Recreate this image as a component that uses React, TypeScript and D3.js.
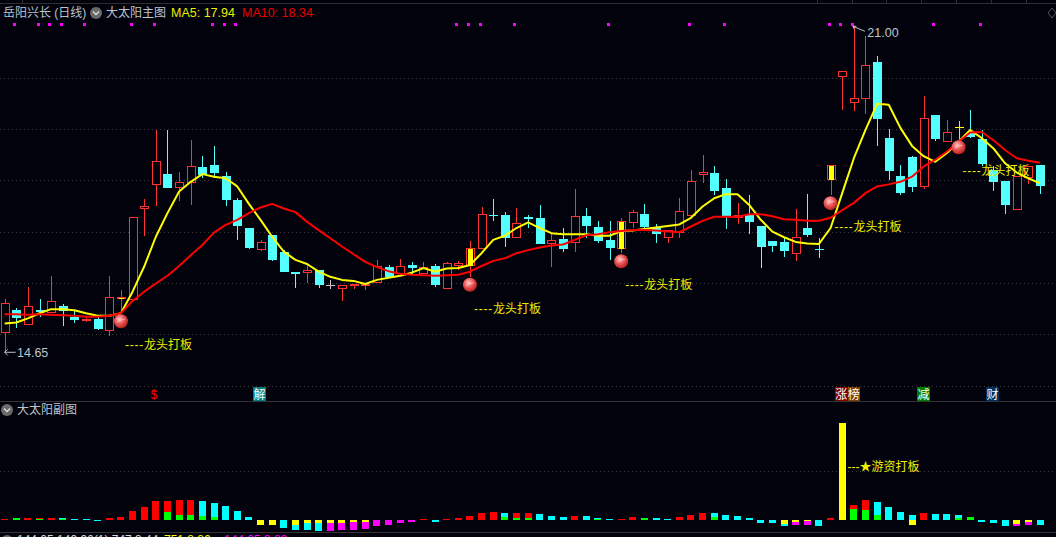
import React from "react";
import * as d3 from "d3";

const opens = [15.03,15.47,15.19,15.47,15.42,15.55,15.34,15.25,15.30,15.07,15.69,15.67,17.45,17.91,18.12,17.84,17.95,18.26,18.30,18.08,17.62,17.07,16.65,16.93,16.60,16.21,16.20,16.25,15.96,15.89,15.95,15.95,15.99,16.31,16.17,16.35,16.17,16.33,15.89,16.34,16.34,16.66,17.32,17.32,16.88,17.28,17.27,16.76,16.86,16.77,17.30,17.09,16.84,16.67,17.16,17.34,17.08,16.88,16.97,17.31,18.11,18.14,17.85,17.26,17.32,17.11,16.82,16.80,16.57,17.07,16.67,18.01,20.01,19.51,19.59,20.31,18.82,18.08,18.45,17.86,19.27,18.75,19.04,18.92,18.80,18.20,17.99,17.42,18.05,18.30];
const closes = [15.60,15.32,15.55,15.43,15.64,15.46,15.28,15.29,15.11,15.72,15.72,17.28,17.50,18.37,17.84,17.97,18.28,18.10,18.14,17.62,17.10,16.69,16.79,16.45,16.22,16.18,16.25,15.97,15.96,15.97,15.98,15.98,16.34,16.11,16.34,16.29,16.32,15.96,16.38,16.38,16.68,17.34,17.30,16.88,17.16,17.25,16.76,16.83,16.67,17.30,17.10,16.82,16.68,17.20,17.38,17.09,16.95,17.03,17.40,17.98,18.16,17.80,17.30,17.32,17.19,16.71,16.72,16.63,16.89,16.93,16.66,18.30,20.12,19.60,20.24,19.20,18.18,17.75,17.87,19.21,18.80,18.94,19.04,18.84,18.32,17.97,17.51,18.09,18.28,17.88];
const highs = [15.69,15.52,15.92,15.69,16.14,15.59,15.46,15.33,15.34,16.14,15.86,17.28,17.64,18.98,18.98,18.16,18.79,18.47,18.67,18.16,17.66,17.07,16.83,16.93,16.64,16.21,16.39,16.25,16.06,15.97,15.98,15.98,16.45,16.35,16.47,16.41,16.40,16.37,16.40,16.42,16.82,17.48,17.64,17.38,17.46,17.32,17.52,16.97,17.07,17.83,17.46,17.21,17.21,17.27,17.42,17.54,17.14,17.03,17.66,18.20,18.49,18.28,18.02,17.56,17.71,17.11,16.82,16.90,17.44,17.73,16.88,18.30,20.12,21.00,20.81,20.42,18.99,18.30,18.47,19.64,19.27,19.18,19.16,19.37,18.98,18.27,17.99,18.09,18.28,18.30];
const lows = [14.65,15.13,15.19,15.34,15.42,15.17,15.22,15.23,15.09,14.97,15.41,15.67,16.92,17.49,17.84,17.60,17.51,18.04,18.04,17.50,16.84,16.66,16.62,16.43,16.22,15.91,15.99,15.91,15.88,15.65,15.88,15.86,15.99,16.10,16.17,16.18,16.17,15.93,15.89,16.25,16.12,16.66,17.21,16.70,16.88,17.08,16.76,16.32,16.61,16.61,16.88,16.77,16.45,16.58,17.08,17.03,16.78,16.78,16.88,17.31,17.95,17.71,17.05,17.15,16.96,16.30,16.60,16.51,16.43,16.90,16.49,17.71,19.36,19.34,19.29,18.67,18.01,17.72,17.77,17.83,18.77,18.75,18.80,18.82,18.28,17.80,17.35,17.42,17.92,17.74];
const ma5 = [15.21,15.23,15.31,15.41,15.49,15.49,15.47,15.41,15.36,15.36,15.41,15.83,16.32,16.90,17.36,17.78,17.97,18.12,18.07,18.04,17.88,17.54,17.23,16.90,16.61,16.45,16.37,16.22,16.12,16.06,16.04,15.98,16.06,16.10,16.14,16.20,16.29,16.22,16.28,16.29,16.35,16.58,16.84,16.92,17.07,17.18,17.07,16.97,16.95,16.95,16.95,16.92,16.92,17.01,17.02,17.05,17.08,17.11,17.14,17.27,17.49,17.65,17.73,17.73,17.52,17.23,17.00,16.89,16.80,16.77,16.76,17.07,17.75,18.43,18.98,19.49,19.47,19.02,18.67,18.47,18.36,18.53,18.75,18.98,18.82,18.62,18.33,18.15,18.04,17.94];
const ma10 = [15.39,15.39,15.38,15.39,15.38,15.37,15.36,15.34,15.34,15.36,15.41,15.65,15.83,15.99,16.14,16.33,16.54,16.74,16.98,17.13,17.23,17.36,17.47,17.54,17.45,17.38,17.19,17.03,16.87,16.71,16.56,16.41,16.31,16.23,16.18,16.16,16.15,16.14,16.15,16.16,16.22,16.33,16.43,16.48,16.58,16.64,16.69,16.73,16.75,16.84,16.93,16.95,16.99,17.01,17.03,17.03,17.02,17.00,16.99,17.10,17.21,17.29,17.29,17.29,17.34,17.34,17.30,17.24,17.23,17.21,17.21,17.27,17.42,17.56,17.75,17.88,17.92,17.97,18.07,18.27,18.40,18.56,18.75,18.93,18.94,18.78,18.59,18.43,18.38,18.34];

const greyCandles = [28];
const yellowCross = [82];
const yellowBody = [10, 40, 53, 71];
const ballIdx = [10, 40, 53, 71, 82];
const dotIdx = [1,3,4,5,7,11,13,18,19,20,39,40,41,44,52,59,62,71,72,73,80,84];

const subA = [0.7,1.7,1.7,1.7,1.7,1.7,0.7,0.7,-1.3,1.7,2.7,8.7,12.7,18.7,18.7,19.7,19.7,18.7,16.7,13.7,8.7,2.7,-5,-5.7,-8.7,-10.7,-10.7,-11.7,-11.7,-10.7,-10,-9,-6,-5,-3,-2,0.7,-2,0.6,1.7,3.7,6.7,7.7,6.7,6.7,6.7,5.7,3.7,2.7,3.7,3.7,1.7,0.7,0.6,2.7,1.7,1.7,0.7,2.7,4.7,6.7,6.7,4.7,3.7,1.7,-3,-3.7,-6,-5,-5,-6,1.7,96.7,14.7,19.7,17.7,12.7,7.7,4.7,6.7,5.7,5.7,4.7,2.7,-2,-3.7,-6.7,-6,-5,-5];
const subAColor = [
  "r","g","r","r","r","c","c","c","c","r",
  "r","r","r","r","r","r","r","c","c","c",
  "c","c","y","c","c","c","c","c","m","m",
  "m","m","m","m","m","m","r","c","r","r",
  "r","r","r","c","r","r","c","c","c","r",
  "c","c","c","r","r","g","c","c","r","r",
  "r","c","c","c","c","c","c","c","m","m",
  "c","r","y","r","r","c","c","c","c","r",
  "c","c","c","g","c","c","c","m","m","c",
];
const subB = [0,0,0,0.7,0,0.7,0,0,0,0,0,0,0,0,7.7,4.7,4.7,3.7,2.7,0,0,0,0,-5,0,-5,-3,-3,-3,-3,-2,-2,0,0,0,0,0,0,0,0,0,0,0,2.7,1.7,1.7,0,0,0,0,0,0.7,0,0,0,0,0,0,0,0,0,2.7,0,0,0,0,0,-4,-2,-1,0,0,0,10.7,9.7,4.7,0,0,-5,0,0,0,1.7,0,0,0,0,-4,-2,0];
const subBColor = (i: number) => (subB[i] > 0 ? "#00ff00" : "#ffff00");
const colorOf: Record<string, string> = { r: "#ff0000", g: "#00ff00", c: "#00ffff", y: "#ffff00", m: "#ff00ff" };

const priceTicks = [14, 15, 16, 17, 18, 19, 20];
const subTicks = [50];
const topTicks = [22, 817, 852, 886, 921, 956, 991, 1026];

const tags = [
  { x: 253, w: 13, bg: "#007f7f", t: "解" },
  { x: 835, w: 12.5, bg: "#800000", t: "涨" },
  { x: 847.5, w: 12.5, bg: "#804000", t: "榜" },
  { x: 917, w: 13, bg: "#008000", t: "减" },
  { x: 986, w: 13, bg: "#003060", t: "财" },
];
const bottomTexts = [
  { x: 17, c: "#d8d8d8", t: "144.05 149.96(1) 747 3.44" },
  { x: 164, c: "#ffff00", t: "751 8.86" },
  { x: 224, c: "#ff00ff", t: "144.05 3.89" },
];

const BG = "#02020c";
const RED = "#ff3232";
const CYAN = "#54ffff";
const GREY = "#bcc4cc";
const CJK = "'Liberation Sans','Noto Sans CJK SC',sans-serif";

export default function App() {
  const x = d3.scaleLinear().domain([0, 89]).range([4.6, 1040]);
  const y = d3.scaleLinear().domain([15, 20]).range([334.3, 77.6]);
  const ys = d3.scaleLinear().domain([0, 100]).range([519.5, 419.5]);
  const cx = (i: number) => Math.round(x(i)) + 0.5;
  const line = d3.line<number>().x((_, i) => x(i)).y((d) => y(d));
  const idx = d3.range(opens.length);

  const Chevron = ({ cxx, cy }: { cxx: number; cy: number }) => (
    <g>
      <circle cx={cxx} cy={cy} r={6} fill="#6a6a6a" />
      <path d={`M${cxx - 3} ${cy - 1.5}L${cxx} ${cy + 1.5}L${cxx + 3} ${cy - 1.5}`} fill="none" stroke="#ddd" strokeWidth={1.3} />
    </g>
  );

  const hi = 73;
  const lo = 0;

  return (
    <div style={{ position: "fixed", left: 0, top: 0, width: 1056, height: 537, background: BG }}>
      <svg width={1056} height={537} style={{ display: "block" }} fontFamily={CJK}>
        <defs>
          <radialGradient id="ball" cx="40%" cy="35%" r="70%">
            <stop offset="0%" stopColor="#ffc8c8" />
            <stop offset="45%" stopColor="#ee5a5a" />
            <stop offset="100%" stopColor="#b01818" />
          </radialGradient>
        </defs>
        <rect width={1056} height={537} fill={BG} />

        {/* frame */}
        <line x1={0} x2={1056} y1={3.5} y2={3.5} stroke="#2e2e2e" />
        {topTicks.map((t) => (
          <line key={t} x1={t + 0.5} x2={t + 0.5} y1={0} y2={3} stroke="#2e2e2e" />
        ))}
        <line x1={0} x2={1056} y1={401.5} y2={401.5} stroke="#333" />
        <line x1={0} x2={1056} y1={532.5} y2={532.5} stroke="#333" />
        <path d="M1052 8L1056 13L1052 18L1048 13Z" fill="none" stroke="#555" />

        {/* grid */}
        {priceTicks.map((p) => (
          <line key={p} x1={0} x2={1056} y1={Math.round(y(p)) + 0.5} y2={Math.round(y(p)) + 0.5} stroke="#3c3c3c" strokeDasharray="1 3" />
        ))}
        {subTicks.map((p) => (
          <line key={p} x1={0} x2={1056} y1={471.5} y2={471.5} stroke="#3c3c3c" strokeDasharray="1 3" />
        ))}

        {/* candles */}
        {idx.map((i) => {
          const up = closes[i] >= opens[i];
          const grey = greyCandles.includes(i);
          const yc = yellowCross.includes(i);
          const yb = yellowBody.includes(i);
          const col = grey ? "#c8c8c8" : up && !yc ? RED : CYAN;
          const top = Math.round(y(Math.max(opens[i], closes[i])));
          const bot = Math.round(y(Math.min(opens[i], closes[i])));
          const c = cx(i);
          const wick = (
            <line x1={c} x2={c} y1={Math.round(y(highs[i]))} y2={Math.round(y(lows[i]))} stroke={col} shapeRendering="crispEdges" />
          );
          if (grey || yc) {
            return (
              <g key={i}>
                {wick}
                <rect x={c - 4.5} y={top} width={9} height={1} fill={yc ? "#ffff00" : col} shapeRendering="crispEdges" />
              </g>
            );
          }
          if (!up) {
            return (
              <g key={i} shapeRendering="crispEdges">
                {wick}
                <rect x={c - 4.5} y={top} width={9} height={Math.max(1, bot - top)} fill={col} />
              </g>
            );
          }
          return (
            <g key={i} shapeRendering="crispEdges">
              {wick}
              <rect x={c - 4} y={top + 0.5} width={8} height={Math.max(1, bot - top - 1)} fill={BG} stroke={col} />
              {yb && <rect x={c - 2.5} y={top + 1} width={5} height={Math.max(1, bot - top - 1)} fill="#ffff00" />}
            </g>
          );
        })}

        {/* moving averages */}
        <path d={line(ma5) ?? ""} fill="none" stroke="#ffff00" strokeWidth={2} strokeLinejoin="round" />
        <path d={line(ma10) ?? ""} fill="none" stroke="#ff0000" strokeWidth={2} strokeLinejoin="round" />

        {/* signals */}
        {ballIdx.map((i) => {
          const c = x(i);
          const by = y(lows[i]) + 8;
          return (
            <g key={i}>
              <circle cx={c} cy={by} r={7} fill="url(#ball)" />
              <path d={`M${c - 4} ${by + 1}Q${c} ${by - 2} ${c + 4} ${by - 2}`} fill="none" stroke="#ffe0e0" strokeOpacity={0.55} strokeWidth={1} />
              <text x={c + 4} y={y(lows[i]) + 36} fontSize={12} fill="#ecec00">
                <tspan letterSpacing={0.75}>----</tspan>龙头打板
              </text>
            </g>
          );
        })}

        {dotIdx.map((i) => (
          <rect key={i} x={Math.round(x(i)) - 3} y={23} width={3} height={3} fill="#ff00ff" shapeRendering="crispEdges" />
        ))}

        {/* extremes */}
        <path d={`M${x(hi) - 1} ${y(highs[hi])}L${x(hi) + 11} ${y(highs[hi]) + 5}M${x(hi) - 1} ${y(highs[hi])}l3.5 0M${x(hi) - 1} ${y(highs[hi])}l1.5 3`} fill="none" stroke="#c4c4c4" />
        <text x={x(hi) + 13.5} y={y(highs[hi]) + 10.5} fontSize={12.5} fill={GREY}>
          {highs[hi].toFixed(2)}
        </text>
        <path d={`M${x(lo)} ${y(lows[lo])}h11M${x(lo)} ${y(lows[lo])}l3 -3M${x(lo)} ${y(lows[lo])}l3 3`} fill="none" stroke="#c4c4c4" />
        <text x={17} y={y(lows[lo]) + 4.5} fontSize={12.5} fill={GREY}>
          {lows[lo].toFixed(2)}
        </text>

        {/* header */}
        <text x={3} y={17} fontSize={12} fill={GREY}>岳阳兴长 (日线)</text>
        <Chevron cxx={96} cy={13} />
        <text x={106} y={17} fontSize={12} fill={GREY}>大太阳主图</text>
        <text x={171} y={17} fontSize={12.5} fill="#e6f000">MA5: {ma5[89].toFixed(2)}</text>
        <text x={242} y={17} fontSize={12.5} fill="#e80000">MA10: {ma10[89].toFixed(2)}</text>

        {/* event tags */}
        <text x={154} y={399} fontSize={12} fill="#ff0000" textAnchor="middle">$</text>
        <path d="M154 389l-2.5 2.5h5z" fill="#ff0000" />
        {tags.map((t) => (
          <g key={t.t}>
            <rect x={t.x} y={387} width={t.w} height={14} fill={t.bg} shapeRendering="crispEdges" />
            <text x={t.x + t.w / 2} y={398.5} fontSize={12} fill="#fff" textAnchor="middle">{t.t}</text>
          </g>
        ))}

        {/* sub panel */}
        <Chevron cxx={7} cy={410} />
        <text x={17} y={414} fontSize={12} fill={GREY}>大太阳副图</text>
        {idx.map((i) => {
          const c = x(i);
          const seg = (v: number, fill: string) => {
            if (!v) return null;
            const a = Math.round(ys(Math.max(v, 0)));
            const b = Math.round(ys(Math.min(v, 0)));
            return <rect x={c - 3.5} y={a} width={7} height={Math.max(1, b - a)} fill={fill} shapeRendering="crispEdges" />;
          };
          return (
            <g key={i}>
              {seg(subA[i], colorOf[subAColor[i]])}
              {seg(subB[i], subBColor(i))}
            </g>
          );
        })}
        <text x={847.5} y={471} fontSize={12} fill="#f0f000">---★游资打板</text>

        {/* clipped bottom line */}
        <circle cx={7} cy={541} r={6} fill="#6a6a6a" />
        {bottomTexts.map((b) => (
          <text key={b.x} x={b.x} y={543.5} fontSize={12} fill={b.c}>{b.t}</text>
        ))}
      </svg>
    </div>
  );
}
